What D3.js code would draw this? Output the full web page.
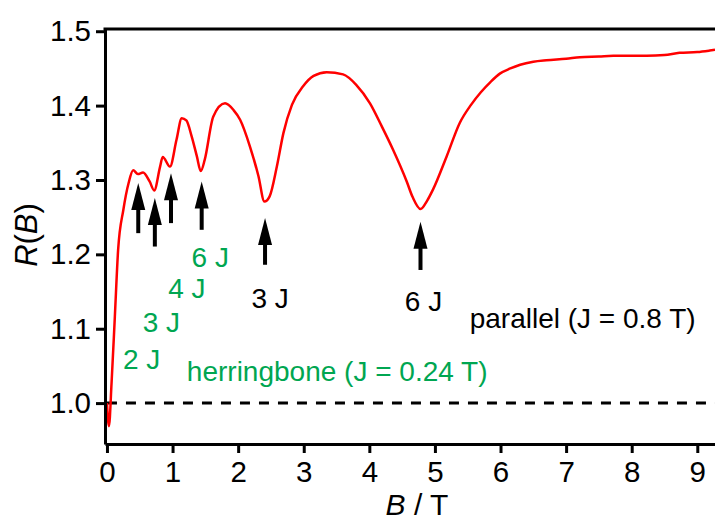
<!DOCTYPE html>
<html>
<head>
<meta charset="utf-8">
<script src="https://cdn.jsdelivr.net/npm/d3@7"></script>
<style>
  html, body { margin: 0; padding: 0; background: #fff; }
  svg { display: block; font-family: "Liberation Sans", Arial, sans-serif; }
</style>
</head>
<body>
<svg id="chart" width="715" height="521"></svg>
<script>
// ---- data ----
const fieldB = [0, 0.03, 0.07, 0.12, 0.17, 0.25, 0.33, 0.40, 0.47, 0.55, 0.65, 0.72, 0.81, 0.85, 0.96,
  1.06, 1.14, 1.21, 1.29, 1.37, 1.43, 1.49, 1.62, 1.80, 1.93, 2.03, 2.18, 2.31, 2.40, 2.48, 2.59,
  2.69, 2.82, 2.99, 3.15, 3.35, 3.60, 3.80, 4.01, 4.19, 4.36, 4.57, 4.66, 4.78, 4.88, 4.97, 5.18,
  5.38, 5.55, 5.70, 5.85, 5.99, 6.15, 6.30, 6.50, 6.70, 7.00, 7.21, 7.50, 7.72, 8.00, 8.23, 8.50,
  8.73, 9.00, 9.19, 9.27];
const ratioR = [1.000, 0.969, 1.027, 1.116, 1.206, 1.260, 1.296, 1.313, 1.308, 1.310, 1.298, 1.286, 1.318, 1.331, 1.318,
  1.354, 1.383, 1.380, 1.359, 1.332, 1.312, 1.327, 1.385, 1.403, 1.394, 1.381, 1.345, 1.305, 1.271, 1.278, 1.318,
  1.363, 1.401, 1.426, 1.440, 1.445, 1.442, 1.428, 1.403, 1.372, 1.341, 1.298, 1.277, 1.261, 1.272, 1.287, 1.332,
  1.377, 1.401, 1.418, 1.432, 1.443, 1.450, 1.455, 1.459, 1.461, 1.463, 1.465, 1.466, 1.467, 1.467, 1.467, 1.468,
  1.471, 1.472, 1.474, 1.475];

const xTicks = [0, 1, 2, 3, 4, 5, 6, 7, 8, 9];
const yTicks = [1.0, 1.1, 1.2, 1.3, 1.4, 1.5];
const referenceLevel = 1.0;

// arrows: field position, tip value, tail value
const arrowB    = [0.477, 0.73, 0.976, 1.444, 2.41, 4.78];
const arrowTip  = [1.296, 1.2757, 1.309, 1.298, 1.249, 1.244];
const arrowTail = [1.2285, 1.2105, 1.242, 1.233, 1.186, 1.179];

// annotations
const labelText  = ["2 J", "3 J", "4 J", "6 J", "herringbone (J = 0.24 T)", "3 J", "6 J", "parallel (J = 0.8 T)"];
const labelB     = [0.244, 0.544, 0.934, 1.29, 1.218, 2.204, 4.541, 5.53];
const labelR     = [1.0454, 1.096, 1.141, 1.1826, 1.0301, 1.1275, 1.1242, 1.1006];
const labelGroup = ["h", "h", "h", "h", "h", "p", "p", "p"];

// ---- drawing ----
const svg = d3.select("#chart");
const GREEN = "#00a651";

const x = d3.scaleLinear().domain([-0.03, 9.27]).range([105, 715]);
const y = d3.scaleLinear().domain([0.945, 1.503]).range([444, 29]);

// dashed reference line
svg.append("line")
  .attr("x1", x(0)).attr("x2", x(9.27))
  .attr("y1", y(referenceLevel)).attr("y2", y(referenceLevel))
  .attr("stroke", "#000").attr("stroke-width", 3)
  .attr("stroke-dasharray", "10,9");

// curve
const pts = fieldB.map((b, i) => [b, ratioR[i]]);
const line = d3.line().x(d => x(d[0])).y(d => y(d[1])).curve(d3.curveMonotoneX);
svg.append("path").datum(pts)
  .attr("d", line)
  .attr("fill", "none")
  .attr("stroke", "#ff0000")
  .attr("stroke-width", 2.5)
  .attr("stroke-linejoin", "round");

// axes
const xAxis = d3.axisBottom(x).tickValues(xTicks).tickFormat(d3.format("d")).tickSize(9).tickSizeOuter(0).tickPadding(8);
const yAxis = d3.axisLeft(y).tickValues(yTicks).tickFormat(d3.format(".1f")).tickSize(9).tickSizeOuter(0).tickPadding(5);

const gx = svg.append("g").attr("transform", `translate(0,${y.range()[0]})`).call(xAxis);
const gy = svg.append("g").attr("transform", `translate(${x.range()[0]},0)`).call(yAxis);
[gx, gy].forEach(g => {
  g.select(".domain").attr("stroke", "#000").attr("stroke-width", 3);
  g.selectAll(".tick line").attr("stroke", "#000").attr("stroke-width", 3);
  g.selectAll(".tick text").attr("fill", "#000").style("font-size", "29.5px")
    .style("font-family", "'Liberation Sans', Arial, sans-serif");
});

// top frame line
svg.append("line")
  .attr("x1", x.range()[0] - 1.5).attr("x2", x.range()[1])
  .attr("y1", y.range()[1]).attr("y2", y.range()[1])
  .attr("stroke", "#000").attr("stroke-width", 3);

// axis titles
const yl = svg.append("text")
  .attr("transform", `translate(37,235) rotate(-90)`)
  .attr("text-anchor", "middle")
  .style("font-size", "31px");
yl.append("tspan").attr("font-style", "italic").text("R");
yl.append("tspan").text("(");
yl.append("tspan").attr("font-style", "italic").text("B");
yl.append("tspan").text(")");

const xl = svg.append("text")
  .attr("x", 417).attr("y", 515)
  .attr("text-anchor", "middle")
  .style("font-size", "30px");
xl.append("tspan").attr("font-style", "italic").text("B");
xl.append("tspan").text(" / T");

// arrows
const headH = 27, headW = 14;
arrowB.forEach((b, i) => {
  const ax = x(b), tipY = y(arrowTip[i]), tailY = y(arrowTail[i]);
  svg.append("line")
    .attr("x1", ax).attr("x2", ax)
    .attr("y1", tailY).attr("y2", tipY + headH - 2)
    .attr("stroke", "#000").attr("stroke-width", 4);
  svg.append("path")
    .attr("d", `M${ax},${tipY} L${ax - headW / 2},${tipY + headH} L${ax + headW / 2},${tipY + headH} Z`)
    .attr("fill", "#000");
});

// annotations
labelText.forEach((t, i) => {
  svg.append("text")
    .attr("x", x(labelB[i])).attr("y", y(labelR[i]))
    .attr("fill", labelGroup[i] === "h" ? GREEN : "#000")
    .style("font-size", "28px")
    .text(t);
});
</script>
</body>
</html>
